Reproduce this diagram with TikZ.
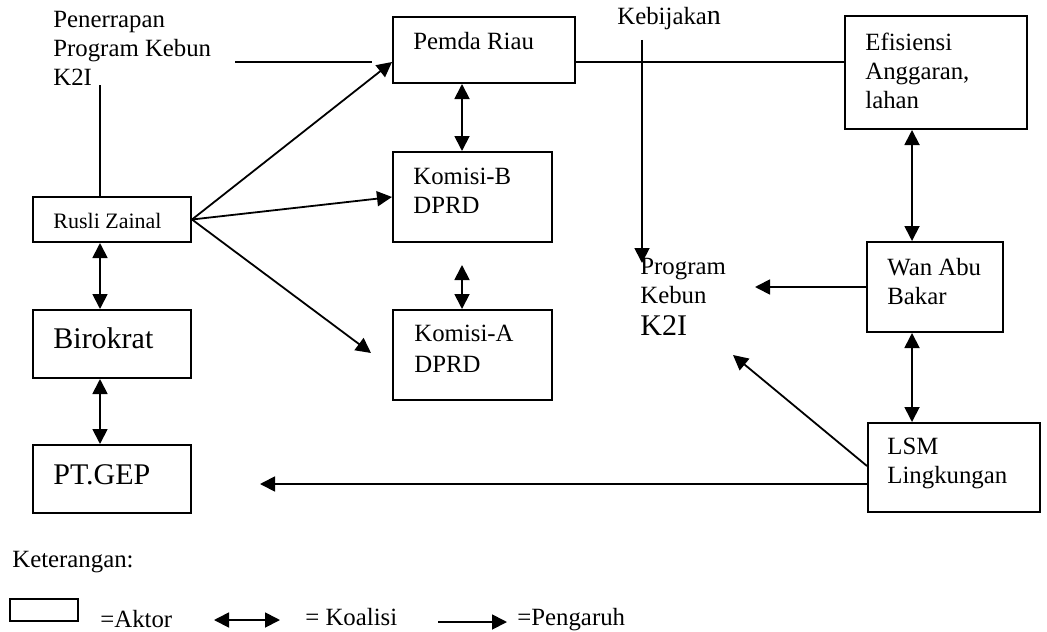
\documentclass[tikz,border=0pt]{standalone}
\usepackage{fontspec}
\setmainfont{Liberation Serif}
\usetikzlibrary{arrows.meta,fit,calc}
\begin{document}
\begin{tikzpicture}[x=0.5pt,y=-0.5pt,
  box/.style={draw, line width=1pt, inner sep=0pt},
  txt/.style={anchor=base west, inner sep=0pt, align=left,
    font=\fontsize{12.4}{14.4}\selectfont},
  big/.style={font=\fontsize{15}{18}\selectfont},
  tip/.tip={Triangle[length=7.5pt,width=7.5pt]},
  pengaruh/.style={-tip, line width=0.9pt},
  koalisi/.style={tip-tip, line width=0.9pt},
  plain/.style={line width=0.9pt}]
\useasboundingbox (0,0) rectangle (1047,631);

% actor boxes
\node[box, fit={(393,17)(575,83)}]   (pemda) {};
\node[box, fit={(393,152)(552,242)}] (komb)  {};
\node[box, fit={(393,310)(552,400)}] (koma)  {};
\node[box, fit={(845,16)(1027,129)}] (efis)  {};
\node[box, fit={(867,242)(1003,332)}] (wan)  {};
\node[box, fit={(868,423)(1040,512)}] (lsm)  {};
\node[box, fit={(33,197)(191,242)}]  (rusli) {};
\node[box, fit={(33,310)(191,378)}]  (biro)  {};
\node[box, fit={(33,445)(191,513)}]  (ptgep) {};

% texts (multi-line texts are placed by the baseline of their last line)
\node[txt] (tpen)   at (53,85)   {Penerrapan\\Program Kebun\\K2I};
\node[txt] (tkeb)   at (617,25)  {Kebijaka{\fontsize{14}{14}\selectfont n}};
\node[txt] (tpemda) at (413,50)  {Pemda Riau};
\node[txt] (tkomb)  at (413,213) {Komisi-B\\DPRD};
\node[txt] (tkoma)  at (414,372) {Komisi-A\\[1pt]DPRD};
\node[txt] (tefis)  at (865,108) {Efisiensi\\Anggaran,\\lahan};
\node[txt] (twan)   at (887,304) {Wan Abu\\Bakar};
\node[txt] (tlsm)   at (887,483) {LSM\\Lingkungan};
\node[txt, font=\fontsize{11}{13}\selectfont] (trusli) at (53,228) {Rusli Zainal};
\node[txt, big] (tbiro) at (53,348) {Birokrat};
\node[txt, big] (tpt)   at (53,484) {PT.GEP};
\node[txt] (tprog)  at (640,335) {Program\\Kebun\\[1.5pt]{\fontsize{15}{15}\selectfont K2I}};

% guide coordinates
\coordinate (xl)  at (100,0);
\coordinate (xk)  at (462,0);
\coordinate (xe)  at (912,0);
\coordinate (yr)  at (0,62);
\coordinate (penK) at (100,85);
\coordinate (penA) at (235,62);
\coordinate (penB) at (372,62);
\coordinate (kebA) at (642,40);
\coordinate (kebB) at (642,263);
\coordinate (kbA)  at (462,265);
\coordinate (toKA) at (371,353);
\coordinate (progR) at (755,287);
\coordinate (progD) at (733,355);
\coordinate (lsmU) at ($(lsm.north west)+(0,44)$);
\coordinate (lsmL) at ($(lsm.north west)+(0,62)$);
\coordinate (ptR)  at (260,0);

% plain lines
\draw[plain] (rusli.north -| xl) -- (penK);
\draw[plain] (penA) -- (penB);
\draw[plain] (pemda.east |- yr) -- (efis.west |- yr);

% influence
\draw[pengaruh] (rusli.east) -- (pemda.west |- yr);
\draw[pengaruh] (rusli.east) -- (komb.west);
\draw[pengaruh] (rusli.east) -- (toKA);
\draw[pengaruh] (kebA) -- (kebB);
\draw[pengaruh] (wan.west) -- (progR);
\draw[pengaruh] (lsmU) -- (progD);
\draw[pengaruh] (lsmL) -- (ptR |- lsmL);

% coalitions
\draw[koalisi] (pemda.south -| xk) -- (komb.north -| xk);
\draw[koalisi] (kbA) -- (koma.north -| xk);
\draw[koalisi] (rusli.south -| xl) -- (biro.north -| xl);
\draw[koalisi] (biro.south -| xl) -- (ptgep.north -| xl);
\draw[koalisi] (efis.south -| xe) -- (wan.north -| xe);
\draw[koalisi] (wan.south -| xe) -- (lsm.north -| xe);

% legend
\node[txt] (tket) at (12,567) {Keterangan:};
\node[box, fit={(10,599)(78,621)}] (lgbox) {};
\node[txt] (taktor) at (100,627) {=Aktor};
\coordinate (lk1) at (214,620);
\coordinate (lk2) at (280,620);
\draw[koalisi] (lk1) -- (lk2);
\node[txt] (tkoal) at (305,625) {= Koalisi};
\coordinate (lp1) at (438,622);
\coordinate (lp2) at (507,622);
\draw[pengaruh] (lp1) -- (lp2);
\node[txt] (tpeng) at (517,625) {=Pengaruh};
\end{tikzpicture}
\end{document}
